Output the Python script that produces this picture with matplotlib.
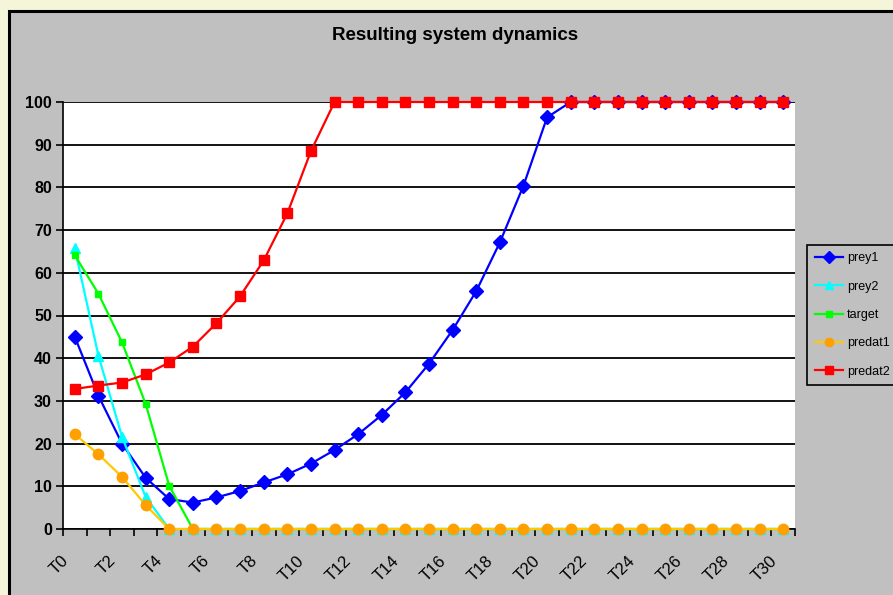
import matplotlib.pyplot as plt
from matplotlib.patches import Rectangle
from matplotlib.transforms import ScaledTranslation

# data
steps = ['T%d' % i for i in range(31)]
prey1 = [45, 31.2, 20, 12, 7, 6.2, 7.4, 8.9, 10.9, 12.8, 15.3, 18.5, 22.2, 26.7, 32, 38.7,
         46.6, 55.7, 67.1, 80.4, 96.4] + [100] * 10
prey2 = [65.7, 40.6, 21.6, 7.5] + [0] * 27
target = [64.1, 55.1, 43.7, 29.3, 10.1] + [0] * 26
predat1 = [22.2, 17.5, 12.2, 5.6] + [0] * 27
predat2 = [32.8, 33.6, 34.3, 36.2, 39.0, 42.7, 48.2, 54.5, 62.9, 73.9, 88.5] + [100] * 20

plt.rcParams['font.family'] = ['Liberation Sans', 'DejaVu Sans']

W, H = 893, 595
fig = plt.figure(figsize=(W / 100, H / 100), dpi=100, facecolor='#F5F5DA')
fig.patches.append(Rectangle((9 / W, -0.05), 1.0, 1 - 10.5 / H + 0.05, transform=fig.transFigure,
                             facecolor='#C0C0C0', edgecolor='black', linewidth=2.2, zorder=-5))

ax = fig.add_axes([63 / W, 1 - 529 / H, 732 / W, 427 / H])
ax.set_facecolor('white')
x = list(range(len(steps)))

ax.plot(x, prey1, color='#0000FF', lw=1.6, marker='D', ms=7.5, mec='#0000FF', label='prey1', clip_on=False, zorder=3)
ax.plot(x, prey2, color='#00FFFF', lw=1.6, marker='^', ms=7.5, mec='#00FFFF', label='prey2', clip_on=False, zorder=3)
ax.plot(x, target, color='#00FF00', lw=1.6, marker='s', ms=5, mec='#00FF00', label='target', clip_on=False, zorder=3)
ax.plot(x, predat1, color='#FFC800', lw=1.6, marker='o', ms=7.5, mfc='#FFA000', mec='#FFA000', label='predat1',
        clip_on=False, zorder=3)
ax.plot(x, predat2, color='#FF0000', lw=1.6, marker='s', ms=6.5, mec='#FF0000', label='predat2', clip_on=False, zorder=3)

ax.set_xlim(-0.5, 30.5)
ax.set_ylim(0, 100)
ax.set_yticks(range(0, 101, 10))
ax.set_yticklabels([str(v) for v in range(0, 101, 10)], fontsize=11.5, fontweight='bold')
ax.grid(axis='y', color='black', lw=1.3)
ax.set_axisbelow(True)

# category boundaries as tick marks, labels on every other category
ax.set_xticks([i - 0.5 for i in range(32)])
ax.set_xticklabels([])
ax.set_xticks(x[::2], minor=True)
ax.set_xticklabels(steps[::2], minor=True, rotation=45, ha='right', va='center',
                   rotation_mode='anchor', fontsize=12)
ax.tick_params(axis='x', which='major', length=5, width=1.2, direction='out')
ax.tick_params(axis='x', which='minor', length=0, pad=21)
ax.tick_params(axis='y', length=5, width=1.2, pad=3)
shift = ScaledTranslation(-0.09, 0, fig.dpi_scale_trans)
for lbl in ax.get_xticklabels(minor=True):
    lbl.set_transform(lbl.get_transform() + shift)

for s in ['top', 'right']:
    ax.spines[s].set_visible(False)
ax.spines['left'].set_linewidth(1.2)
ax.spines['bottom'].set_linewidth(1.2)

fig.text(455 / W, 1 - 35 / H, 'Resulting system dynamics', ha='center', va='center',
         fontsize=13.5, fontweight='bold')

leg = fig.legend(loc='upper left', bbox_to_anchor=(807 / W, 1 - 245 / H), fontsize=9,
                 facecolor='#C0C0C0', edgecolor='black', fancybox=False, framealpha=1,
                 handlelength=2.3, labelspacing=1.3, borderpad=0.6, borderaxespad=0,
                 handletextpad=0.3, markerscale=0.8)
leg.get_frame().set_linewidth(1.2)

plt.savefig('out.png', dpi=100, facecolor=fig.get_facecolor())
